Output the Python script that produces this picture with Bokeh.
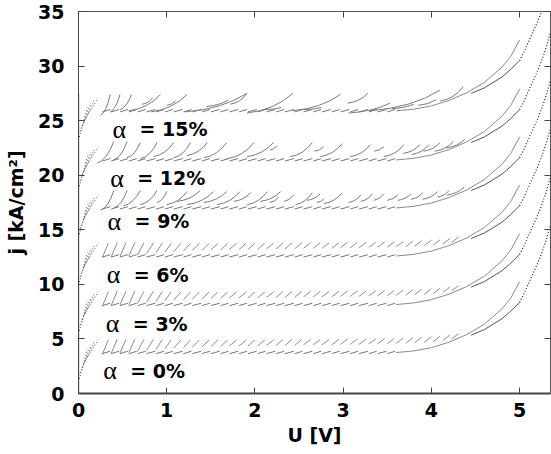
import numpy as np
from bokeh.plotting import figure
from bokeh.models import LinearAxis, Range1d, FixedTicker, CustomJSTickFormatter, ColumnDataSource
from bokeh.core.properties import value
from bokeh.embed import file_html
from bokeh.resources import INLINE

# ---------------- data ----------------
alpha_text = ["= 0%", "= 3%", "= 6%", "= 9%", "= 12%", "= 15%"]
baseline_j = [3.75, 8.15, 12.6, 17.0, 21.4, 25.9]      # flat level of each family
label_u = [0.28, 0.31, 0.32, 0.33, 0.36, 0.385]
label_j = [2.1, 6.4, 10.9, 15.8, 19.7, 24.2]

x_ticks = [0, 1, 2, 3, 4, 5]
y_ticks = [0, 5, 10, 15, 20, 25, 30, 35]

# fine branches (alpha = 0, 3, 6 %): start/end voltage, start/end current above the family level
fine_u0 = [0.27, 0.37, 0.47, 0.57, 0.67, 0.77, 0.88, 0.98, 1.08, 1.19, 1.29, 1.40, 1.50,
           1.61, 1.71, 1.82, 1.92, 2.03, 2.13, 2.24, 2.34, 2.45, 2.55, 2.66, 2.76, 2.87,
           2.97, 3.08, 3.18, 3.29, 3.39, 3.50, 3.60, 3.71, 3.81, 3.92, 4.02, 4.13, 4.23]
fine_u1 = [0.34, 0.44, 0.54, 0.64, 0.74, 0.85, 0.95, 1.05, 1.16, 1.27, 1.37, 1.48, 1.58,
           1.69, 1.79, 1.90, 2.00, 2.11, 2.21, 2.32, 2.42, 2.53, 2.63, 2.74, 2.84, 2.95,
           3.05, 3.16, 3.26, 3.37, 3.47, 3.58, 3.68, 3.79, 3.89, 4.00, 4.10, 4.21, 4.31]
fine_d0 = [-0.15, -0.1, -0.05, 0.0, 0.1, 0.2, 0.3, 0.35, 0.4, 0.45, 0.5, 0.5, 0.55,
           0.55, 0.6, 0.6, 0.6, 0.6, 0.65, 0.65, 0.65, 0.65, 0.7, 0.7, 0.7, 0.7,
           0.75, 0.75, 0.75, 0.8, 0.8, 0.8, 0.85, 0.85, 0.9, 0.95, 1.0, 1.1, 1.25]
fine_d1 = [1.2, 1.25, 1.25, 1.25, 1.2, 1.2, 1.2, 1.15, 1.15, 1.15, 1.15, 1.15, 1.15,
           1.15, 1.15, 1.15, 1.15, 1.15, 1.15, 1.2, 1.2, 1.2, 1.2, 1.2, 1.2, 1.2,
           1.25, 1.25, 1.25, 1.25, 1.3, 1.3, 1.3, 1.35, 1.4, 1.45, 1.5, 1.6, 1.75]

# coarse branches, alpha = 9 %
a9_u0 = [0.25, 0.40, 0.51, 0.70, 0.89, 1.00, 1.12, 1.23, 1.42, 1.57, 1.76, 1.91, 2.06, 2.17,
         2.33, 2.46, 2.59, 2.70, 2.78, 3.06, 3.20, 3.35, 3.50, 3.62, 3.77, 3.90, 4.07, 4.18]
a9_u1 = [0.40, 0.55, 0.70, 0.89, 1.00, 1.23, 1.38, 1.53, 1.68, 1.83, 1.95, 2.14, 2.29, 2.27,
         2.44, 2.65, 2.74, 2.78, 2.99, 3.20, 3.33, 3.46, 3.62, 3.77, 3.90, 4.07, 4.20, 4.37]
a9_d0 = [-0.2, 0.0, 0.2, 0.3, 0.5, 0.3, 0.6, 0.3, 0.5, 0.3, 0.6, 0.3, 0.6, 0.5,
         0.6, 0.3, 0.7, 0.5, 0.4, 0.5, 0.6, 0.7, 0.7, 0.7, 0.8, 0.8, 1.0, 1.2]
a9_d1 = [1.6, 1.6, 1.6, 1.6, 1.5, 1.5, 1.6, 1.5, 1.5, 1.5, 1.4, 1.5, 1.5, 1.0,
         1.2, 1.4, 1.3, 0.8, 1.4, 1.2, 1.3, 1.3, 1.2, 1.3, 1.4, 1.5, 1.6, 1.9]

# coarse branches, alpha = 12 %
a12_u0 = [0.21, 0.40, 0.55, 0.70, 0.85, 1.08, 1.23, 1.42, 1.68, 1.91, 2.17, 2.40, 2.67, 2.74,
          3.08, 3.35, 3.46, 3.68, 3.78, 3.91, 4.04, 4.17]
a12_u1 = [0.40, 0.55, 0.70, 0.89, 1.08, 1.27, 1.46, 1.68, 1.99, 2.21, 2.25, 2.65, 2.78, 2.99,
          3.31, 3.46, 3.69, 3.87, 3.97, 4.10, 4.25, 4.38]
a12_d0 = [-0.3, 0.0, 0.2, 0.1, 0.3, 0.2, 0.4, 0.2, 0.1, 0.3, 0.9, 0.3, 0.8, 0.3,
          0.3, 0.8, 0.3, 0.6, 0.5, 0.8, 0.8, 1.1]
a12_d1 = [1.7, 1.7, 1.6, 1.6, 1.6, 1.6, 1.6, 1.6, 1.6, 1.6, 1.3, 1.6, 1.2, 1.5,
          1.4, 1.2, 1.4, 1.4, 1.4, 1.6, 1.7, 1.9]

# coarse branches, alpha = 15 %
a15_u0 = [0.25, 0.36, 0.47, 0.57, 0.72, 0.82, 1.00, 1.21, 1.45, 1.72, 1.91, 2.10, 2.42, 2.55,
          3.05, 3.06, 3.30, 3.55, 3.85, 4.10]
a15_u1 = [0.36, 0.47, 0.60, 0.93, 0.84, 1.23, 1.10, 1.91, 1.70, 1.91, 2.43, 2.30, 2.97, 2.75,
          3.28, 3.53, 4.10, 3.80, 4.05, 4.36]
a15_d0 = [-0.4, -0.1, 0.1, 0.0, 0.6, -0.1, 0.5, -0.1, 0.4, 0.6, -0.2, 0.1, 0.0, 0.1,
          0.7, -0.2, 0.0, 0.2, 0.5, 0.9]
a15_d1 = [1.5, 1.5, 1.5, 1.5, 1.2, 1.5, 0.9, 1.6, 1.0, 1.6, 1.6, 0.3, 1.5, 0.3,
          1.6, 0.7, 1.9, 0.6, 1.0, 2.2]

# steep dotted branches near U = 0 (relative to the family level)
fan_u0 = [0.01, 0.02, 0.04, 0.06]
fan_u1 = [0.10, 0.14, 0.18, 0.22]
fan_d0 = [-2.4, -1.9, -1.4, -1.0]
fan_d1 = [0.3, 0.7, 1.0, 1.15]

# high-voltage part of each family (relative to the family level)
rise_u = [3.60, 3.80, 4.00, 4.20, 4.40, 4.60, 4.80, 4.90, 5.00]
rise_d = [0.00, 0.15, 0.45, 0.95, 1.65, 2.60, 4.00, 5.00, 6.50]
second_u = [4.45, 4.60, 4.70, 4.80, 4.90, 5.00]
second_d = [1.60, 2.10, 2.60, 3.10, 3.80, 4.60]
steep_u = [5.00, 5.05, 5.10, 5.15, 5.20, 5.25, 5.30, 5.35]
steep_d = [4.60, 5.40, 6.30, 7.20, 8.10, 9.10, 10.30, 11.70]

# superconducting branch along U = 0
sc_u = [0.0, 0.0]
sc_j = [0.0, 27.5]

# ---------------- figure ----------------
p = figure(width=551, height=454, output_backend="svg", toolbar_location=None,
           x_range=Range1d(0, 5.35), y_range=Range1d(0, 35),
           min_border_left=78, min_border_right=1, min_border_top=11, min_border_bottom=61)
p.background_fill_color = "white"
p.border_fill_color = "white"
p.outline_line_color = "#555555"
p.grid.visible = False

FONT = "DejaVu Sans"

for ax in (p.xaxis[0], p.yaxis[0]):
    ax.major_label_text_font = FONT
    ax.major_label_text_font_style = "bold"
    ax.major_label_text_font_size = "19px"
    ax.major_label_text_color = "black"
    ax.axis_label_text_font = FONT
    ax.axis_label_text_font_style = "bold"
    ax.axis_label_text_font_size = "19px"
    ax.axis_label_text_color = "black"
    ax.major_tick_in = 6
    ax.major_tick_out = 0
    ax.minor_tick_line_color = None
    ax.axis_line_color = "#444444"
    ax.major_tick_line_color = "#444444"

p.xaxis[0].ticker = FixedTicker(ticks=x_ticks)
p.yaxis[0].ticker = FixedTicker(ticks=y_ticks)
p.xaxis[0].axis_label = "U [V]"
p.yaxis[0].axis_label = "j [kA/cm²]"
p.xaxis[0].major_label_standoff = 9
p.xaxis[0].axis_label_standoff = 4
p.yaxis[0].major_label_standoff = 14
p.yaxis[0].axis_label_standoff = 8
p.xaxis[0].axis_line_width = 2

blank = CustomJSTickFormatter(code="return ''")
top_ax = LinearAxis(ticker=FixedTicker(ticks=x_ticks), formatter=blank)
right_ax = LinearAxis(ticker=FixedTicker(ticks=y_ticks), formatter=blank)
for ax in (top_ax, right_ax):
    ax.major_tick_in = 6
    ax.major_tick_out = 0
    ax.minor_tick_line_color = None
    ax.axis_line_color = "#555555"
    ax.major_tick_line_color = "#444444"
    ax.major_label_standoff = 0
    ax.major_label_text_font_size = "1px"
p.add_layout(top_ax, "above")
p.add_layout(right_ax, "right")

# ---------------- glyphs ----------------
coarse = {3: (a9_u0, a9_u1, a9_d0, a9_d1),
          4: (a12_u0, a12_u1, a12_d0, a12_d1),
          5: (a15_u0, a15_u1, a15_d0, a15_d1)}

seg = dict(x0=[], y0=[], x1=[], y1=[])
arc = dict(x0=[], y0=[], x1=[], y1=[], cx=[], cy=[])
base = dict(x0=[], y0=[], x1=[], y1=[])
fan = dict(x0=[], y0=[], x1=[], y1=[])
rise_xs, rise_ys, sec_xs, sec_ys, st_xs, st_ys = [], [], [], [], [], []

for k, b in enumerate(baseline_j):
    if k < 3:
        for u0, u1, d0, d1 in zip(fine_u0, fine_u1, fine_d0, fine_d1):
            seg["x0"].append(u0); seg["y0"].append(b + d0)
            seg["x1"].append(u1); seg["y1"].append(b + d1)
    else:
        for u0, u1, d0, d1 in zip(*coarse[k]):
            arc["x0"].append(u0); arc["y0"].append(b + d0)
            arc["x1"].append(u1); arc["y1"].append(b + d1)
            arc["cx"].append(u0 + 0.6 * (u1 - u0)); arc["cy"].append(b + d0 + 0.15 * (d1 - d0))
    # wavy flat part
    for i in range(len(fine_u0) - 1):
        if fine_u0[i] >= 3.6:
            break
        base["x0"].append(fine_u0[i]); base["y0"].append(b - 0.1)
        base["x1"].append(fine_u0[i + 1] - 0.01); base["y1"].append(b + 0.12)
    for u0, u1, d0, d1 in zip(fan_u0, fan_u1, fan_d0, fan_d1):
        fan["x0"].append(u0); fan["y0"].append(max(b + d0, 0.3))
        fan["x1"].append(u1); fan["y1"].append(b + d1)
    rise_xs.append(rise_u); rise_ys.append([b + d for d in rise_d])
    sec_xs.append(second_u); sec_ys.append([b + d for d in second_d])
    st_xs.append(steep_u); st_ys.append([b + d for d in steep_d])

p.segment(x0="x0", y0="y0", x1="x1", y1="y1", source=ColumnDataSource(seg),
          line_color="#8c8c8c", line_width=1)
p.quadratic(x0="x0", y0="y0", x1="x1", y1="y1", cx="cx", cy="cy", source=ColumnDataSource(arc),
            line_color="#7a7a7a", line_width=1)
p.segment(x0="x0", y0="y0", x1="x1", y1="y1", source=ColumnDataSource(base),
          line_color="#777777", line_width=1)
p.segment(x0="x0", y0="y0", x1="x1", y1="y1", source=ColumnDataSource(fan),
          line_color="#555555", line_width=1, line_dash="1 2")
p.multi_line(xs=rise_xs, ys=rise_ys, line_color="#8a8a8a", line_width=1)
p.multi_line(xs=sec_xs, ys=sec_ys, line_color="#555555", line_width=1)
p.multi_line(xs=st_xs, ys=st_ys, line_color="#222222", line_width=1.2, line_dash="1 2")
p.line(sc_u, sc_j, line_color="#333333", line_width=1.5, line_dash="1 1")

lab = ColumnDataSource(dict(x=label_u, y=label_j, t=alpha_text, a=["α"] * len(alpha_text)))
p.text(x="x", y="y", text="a", source=lab, text_font=value("Liberation Serif"),
       text_font_size="26px", text_baseline="middle", text_align="left", text_color="black")
p.text(x="x", y="y", text="t", source=lab, text_font=value(FONT), text_font_style="bold",
       text_font_size="19px", text_baseline="middle", text_align="left", text_color="black",
       x_offset=27)

open("out.html", "w").write(file_html(p, INLINE))
